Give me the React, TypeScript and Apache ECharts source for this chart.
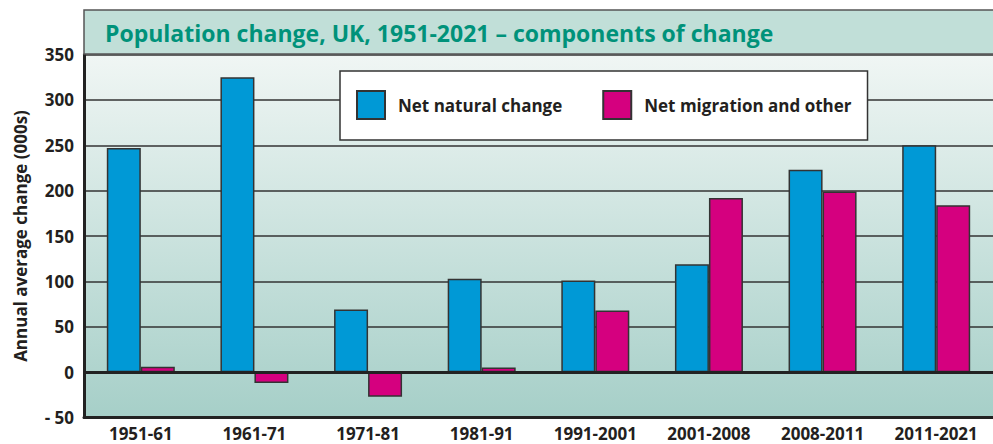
import React, { useEffect, useRef } from "react";
import * as echarts from "echarts";

const categories = ["1951-61", "1961-71", "1971-81", "1981-91", "1991-2001", "2001-2008", "2008-2011", "2011-2021"];
const netNatural = [247, 325, 69, 103, 101, 119, 223, 250];
const netMigration = [6, -12, -27, 5, 68, 192, 199, 184];
const seriesNames = ["Net natural change", "Net migration and other"];
const titleText = "Population change, UK, 1951-2021 – components of change";
const yAxisName = "Annual average change (000s)";

const FONT = "'Open Sans', 'Noto Sans', sans-serif";
const DARK = "#231f20";

export default function App() {
  const ref = useRef<HTMLDivElement>(null);
  useEffect(() => {
    if (!ref.current) return;
    const chart = echarts.init(ref.current, undefined, { renderer: "svg" });
    chart.setOption({
      animation: false,
      backgroundColor: "#ffffff",
      textStyle: { fontFamily: FONT },
      graphic: [
        {
          type: "rect",
          z: 100,
          shape: { x: 84, y: 10, width: 912, height: 44 },
          style: { fill: "#c1dfd8", stroke: "#555", lineWidth: 1.5 },
        },
        {
          type: "text",
          z: 101,
          x: 105,
          y: 33,
          style: {
            text: titleText,
            fill: "#00927a",
            font: `bold 23px ${FONT}`,
            textVerticalAlign: "middle",
          },
        },
      ],
      grid: {
        left: 84,
        right: -3,
        top: 54.5,
        bottom: 26.5,
        show: true,
        borderWidth: 0,
        backgroundColor: new echarts.graphic.LinearGradient(0, 0, 0, 1, [
          { offset: 0, color: "#f0f6f4" },
          { offset: 1, color: "#a6cfc8" },
        ]),
      },
      legend: {
        left: 340,
        top: 71,
        padding: [19, 16, 20, 16],
        backgroundColor: "#ffffff",
        borderColor: "#333",
        borderWidth: 1.5,
        itemWidth: 28,
        itemHeight: 28,
        itemGap: 40,
        icon: "rect",
        selectedMode: false,
        textStyle: { fontSize: 17, fontWeight: "bold", color: DARK, fontFamily: FONT, padding: [0, 0, 0, 8] },
        data: seriesNames,
      },
      xAxis: {
        type: "category",
        data: categories,
        axisLine: { onZero: false, lineStyle: { color: "#222", width: 3 } },
        axisTick: { show: false },
        axisLabel: { fontSize: 17, fontWeight: "bold", color: DARK, margin: 7, fontFamily: FONT },
        splitLine: { show: false },
      },
      yAxis: {
        type: "value",
        min: -50,
        max: 350,
        interval: 50,
        name: yAxisName,
        nameLocation: "middle",
        nameGap: 55,
        nameTextStyle: { fontSize: 17, fontWeight: "bold", color: DARK, fontFamily: FONT },
        axisLine: { show: true, lineStyle: { color: "#222", width: 3 } },
        axisTick: { show: false },
        axisLabel: {
          fontSize: 17,
          fontWeight: "bold",
          color: DARK,
          margin: 10,
          fontFamily: FONT,
          formatter: (v: number) => (v < 0 ? "- " + Math.abs(v) : String(v)),
        },
        splitLine: { show: true, lineStyle: { color: "#333", width: 1.5 } },
      },
      series: [
        {
          name: seriesNames[0],
          type: "bar",
          data: netNatural,
          barWidth: 34,
          barGap: "0%",
          itemStyle: { color: "#0099d6", borderColor: "#333", borderWidth: 1.5 },
          markLine: {
            silent: true,
            symbol: "none",
            label: { show: false },
            lineStyle: { color: "#222", width: 3, type: "solid" },
            data: [{ yAxis: 0 }],
            z: 10,
          },
        },
        {
          name: seriesNames[1],
          type: "bar",
          data: netMigration,
          barWidth: 34,
          barGap: "0%",
          itemStyle: { color: "#d5007f", borderColor: "#333", borderWidth: 1.5 },
        },
      ],
    });
    return () => chart.dispose();
  }, []);
  return <div ref={ref} style={{ position: "fixed", left: 0, top: 0, width: 993, height: 444 }} />;
}
